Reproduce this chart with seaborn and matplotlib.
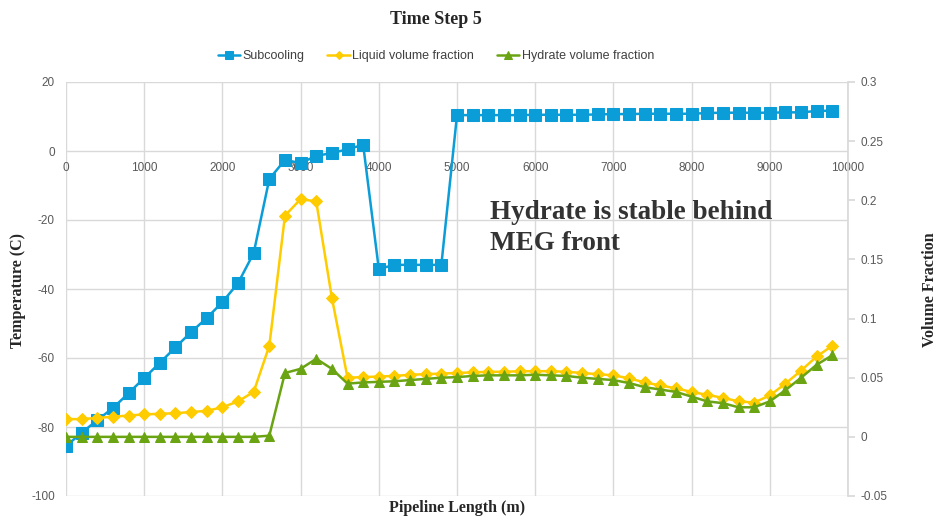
import matplotlib
matplotlib.use('Agg')

import matplotlib.pyplot as plt
from matplotlib.ticker import FuncFormatter, MultipleLocator
import seaborn as sns

sns.set_theme(style="white")
plt.rcParams['font.family'] = ['Liberation Sans', 'DejaVu Sans']
plt.rcParams['axes.unicode_minus'] = False

# du lieu doc tu hinh
pipeline_length = [0, 200, 400, 600, 800, 1000, 1200, 1400, 1600, 1800,
                   2000, 2200, 2400, 2600, 2800, 3000, 3200, 3400, 3600, 3800,
                   4000, 4200, 4400, 4600, 4800, 5000, 5200, 5400, 5600, 5800,
                   6000, 6200, 6400, 6600, 6800, 7000, 7200, 7400, 7600, 7800,
                   8000, 8200, 8400, 8600, 8800, 9000, 9200, 9400, 9600, 9800]

subcooling = [-85.5, -81.7, -78.0, -74.5, -70.2, -65.8, -61.4, -56.9, -52.5, -48.4,
              -43.8, -38.3, -29.6, -8.1, -2.6, -3.5, -1.4, -0.6, 0.5, 1.8,
              -34.2, -33.0, -33.0, -33.0, -33.0, 10.4, 10.4, 10.4, 10.4, 10.4,
              10.5, 10.5, 10.5, 10.5, 10.6, 10.7, 10.7, 10.8, 10.8, 10.8,
              10.8, 11.0, 11.1, 11.1, 11.1, 11.1, 11.2, 11.2, 11.6, 11.7]

liquid_fraction = [0.015, 0.015, 0.016, 0.017, 0.018, 0.019, 0.0195, 0.020, 0.021, 0.022,
                   0.025, 0.030, 0.038, 0.077, 0.187, 0.201, 0.199, 0.1175, 0.050, 0.0505,
                   0.051, 0.0515, 0.0525, 0.053, 0.0535, 0.054, 0.0545, 0.055, 0.055, 0.0555,
                   0.0555, 0.0555, 0.055, 0.054, 0.053, 0.052, 0.0495, 0.046, 0.0435, 0.041,
                   0.038, 0.0355, 0.033, 0.030, 0.029, 0.035, 0.045, 0.056, 0.068, 0.077]

hydrate_fraction = [0.0, 0.0, 0.0, 0.0, 0.0, 0.0, 0.0, 0.0, 0.0, 0.0,
                    0.0, 0.0, 0.0, 0.001, 0.054, 0.0575, 0.066, 0.0575, 0.045, 0.046,
                    0.0465, 0.047, 0.048, 0.049, 0.050, 0.0505, 0.0515, 0.052, 0.052, 0.052,
                    0.0525, 0.052, 0.0515, 0.050, 0.049, 0.048, 0.0455, 0.042, 0.040, 0.038,
                    0.034, 0.030, 0.0285, 0.025, 0.025, 0.030, 0.0395, 0.050, 0.061, 0.069]

series_names = ['Subcooling', 'Liquid volume fraction', 'Hydrate volume fraction']

blue = '#0A9DD8'
yellow = '#FFCC00'
green = '#6AA412'
tick_color = '#595959'
grid_color = '#D9D9D9'

fig = plt.figure(figsize=(9.38, 5.18), dpi=100)
ax = fig.add_axes([66 / 938, 22 / 518, 782 / 938, 414 / 518])

# truc trai: nhiet do
sns.lineplot(x=pipeline_length, y=subcooling, ax=ax, color=blue, marker='s',
             markersize=8, markeredgecolor=blue, linewidth=1.8, label=series_names[0],
             legend=False, zorder=3)
ax.set_xlim(0, 10000)
ax.set_ylim(-100, 20)
ax.yaxis.set_major_locator(MultipleLocator(20))
ax.xaxis.set_major_locator(MultipleLocator(1000))
ax.grid(True, color=grid_color, linewidth=1)
ax.spines['bottom'].set_position(('data', 0))
for s in ax.spines.values():
    s.set_visible(False)
ax.tick_params(axis='both', length=0, labelsize=8.5, labelcolor=tick_color)
ax.tick_params(axis='y', pad=8)
ax.tick_params(axis='x', pad=8)

# truc phai: ty le the tich
ax2 = ax.twinx()
sns.lineplot(x=pipeline_length, y=liquid_fraction, ax=ax2, color=yellow, marker='D',
             markersize=6, markeredgecolor=yellow, linewidth=1.8, label=series_names[1],
             legend=False)
sns.lineplot(x=pipeline_length, y=hydrate_fraction, ax=ax2, color=green, marker='^',
             markersize=7.5, markeredgecolor=green, linewidth=1.8, label=series_names[2],
             legend=False)
ax2.set_ylim(-0.05, 0.3)
ax2.yaxis.set_major_locator(MultipleLocator(0.05))
ax2.yaxis.set_major_formatter(FuncFormatter(lambda v, p: f'{v:.2f}'.rstrip('0').rstrip('.') if abs(v) > 1e-9 else '0'))
for s in ax2.spines.values():
    s.set_visible(False)
ax2.spines['right'].set_visible(True)
ax2.spines['right'].set_color(grid_color)
ax2.tick_params(axis='y', length=5, color=grid_color, labelsize=8.5, labelcolor=tick_color, pad=4)
ax2.set_xlim(0, 10000)

serif = ['Liberation Serif', 'DejaVu Serif']
fig.text(436 / 938, 1 - 19 / 518, 'Time Step 5', family=serif, fontweight='bold',
         fontsize=13, color='#262626', ha='center', va='center')
fig.text(18 / 938, 1 - 290 / 518, 'Temperature (C)', family=serif, fontweight='bold',
         fontsize=11.5, color='#262626', rotation=90, ha='center', va='center')
fig.text(930 / 938, 1 - 290 / 518, 'Volume Fraction', family=serif, fontweight='bold',
         fontsize=11.5, color='#262626', rotation=90, ha='center', va='center')
fig.text(457 / 938, 1 - 508 / 518, 'Pipeline Length (m)', family=serif, fontweight='bold',
         fontsize=11.5, color='#262626', ha='center', va='center')
fig.text(490 / 938, 1 - 228 / 518, 'Hydrate is stable behind\nMEG front', family=serif,
         fontweight='bold', fontsize=19.5, color='#333333', ha='left', va='center',
         linespacing=1.3)

handles = ax.get_lines()[:1] + ax2.get_lines()[:2]
fig.legend(handles, series_names, loc='center', bbox_to_anchor=(436 / 938, 1 - 56 / 518),
           ncol=3, frameon=False, fontsize=9, labelcolor='#404040', handlelength=1.8,
           handletextpad=0.2, columnspacing=1.8, markerscale=0.75)

fig.savefig('out.png', dpi=100)
